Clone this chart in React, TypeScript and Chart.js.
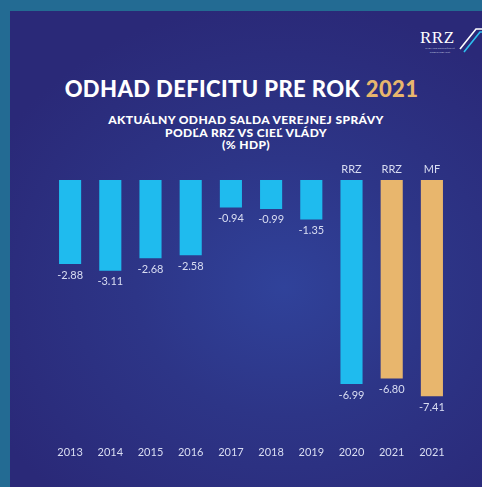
import React, { useEffect, useRef } from "react";
import { Chart, registerables } from "chart.js";

Chart.register(...registerables);

const years = ["2013", "2014", "2015", "2016", "2017", "2018", "2019", "2020", "2021", "2021"];
const balance = [-2.88, -3.11, -2.68, -2.58, -0.94, -0.99, -1.35, -6.99, -6.8, -7.41];
const sources = ["", "", "", "", "", "", "", "RRZ", "RRZ", "MF"];
const yTicks = { min: -8, max: 0 };

const CYAN = "#1fbbee";
const TAN = "#e8b66d";
const LABEL = "#d9ddf2";
const FONT = "Lato, 'Open Sans', sans-serif";

const barLabels = {
  id: "barLabels",
  afterDatasetsDraw(chart: any) {
    const ctx = chart.ctx;
    const meta = chart.getDatasetMeta(0);
    ctx.save();
    ctx.font = `11px ${FONT}`;
    ctx.fillStyle = LABEL;
    ctx.textAlign = "center";
    ctx.textBaseline = "middle";
    meta.data.forEach((bar: any, i: number) => {
      ctx.fillText(balance[i].toFixed(2), bar.x, bar.y + 11);
      if (sources[i]) ctx.fillText(sources[i], bar.x, bar.base - 11);
    });
    ctx.restore();
  },
};

export default function App() {
  const ref = useRef<HTMLCanvasElement | null>(null);

  useEffect(() => {
    if (!ref.current) return;
    const chart = new Chart(ref.current, {
      type: "bar",
      data: {
        labels: years,
        datasets: [
          {
            data: balance,
            backgroundColor: years.map((y, i) => (i >= 8 ? TAN : CYAN)),
            borderWidth: 0,
            categoryPercentage: 1,
            barPercentage: 0.55,
          },
        ],
      },
      options: {
        responsive: false,
        animation: false,
        devicePixelRatio: 1,
        layout: { padding: { top: 180, left: 50, right: 30, bottom: 13.4 } },
        plugins: { legend: { display: false }, tooltip: { enabled: false }, title: { display: false } },
        scales: {
          x: {
            grid: { display: false },
            border: { display: false },
            ticks: { color: LABEL, font: { family: FONT, size: 11 }, padding: 24, maxRotation: 0 },
            afterFit: (s: any) => {
              s.height = 60;
            },
          },
          y: { display: false, min: yTicks.min, max: yTicks.max },
        },
      },
      plugins: [barLabels],
    });
    return () => chart.destroy();
  }, []);

  return (
    <div
      style={{
        position: "fixed",
        left: 0,
        top: 0,
        width: 482,
        height: 487,
        background: "#236b93",
        overflow: "hidden",
        fontFamily: FONT,
      }}
    >
      <div
        style={{
          position: "absolute",
          left: 10,
          top: 11,
          width: 472,
          height: 476,
          background:
            "radial-gradient(ellipse 70% 60% at 58% 58%, #30429a 0%, #2d3587 45%, #2a2978 100%)",
        }}
      />
      <div
        style={{
          position: "absolute",
          left: 241.5,
          top: 78,
          transform: "translateX(-50%)",
          whiteSpace: "nowrap",
          fontSize: 22,
          lineHeight: "22px",
          fontWeight: 900,
          letterSpacing: 0.4,
          color: "#ffffff",
        }}
      >
        ODHAD DEFICITU PRE ROK <span style={{ color: "#e8b66d" }}>2021</span>
      </div>
      <div
        style={{
          position: "absolute",
          left: 246,
          top: 114,
          transform: "translateX(-50%)",
          whiteSpace: "nowrap",
          textAlign: "center",
          fontSize: 12,
          lineHeight: "12.5px",
          fontWeight: 900,
          letterSpacing: 0.4,
          color: "#ffffff",
        }}
      >
        <div>AKTUÁLNY ODHAD SALDA VEREJNEJ SPRÁVY</div>
        <div>PODĽA RRZ VS CIEĽ VLÁDY</div>
        <div>(% HDP)</div>
      </div>
      <div
        style={{
          position: "absolute",
          left: 420,
          top: 28,
          fontFamily: "'Liberation Serif', serif",
          fontSize: 17,
          lineHeight: "20px",
          color: "#ffffff",
          letterSpacing: 0.5,
        }}
      >
        RRZ
      </div>
      <div
        style={{
          position: "absolute",
          left: 421,
          top: 47,
          width: 38,
          fontSize: 2.5,
          lineHeight: "3.5px",
          color: "#b8bfdc",
          textAlign: "center",
          whiteSpace: "nowrap",
          overflow: "hidden",
        }}
      >
        <div>RADA PRE ROZPOČTOVÚ</div>
        <div>ZODPOVEDNOSŤ</div>
      </div>
      <svg style={{ position: "absolute", left: 0, top: 0 }} width={482} height={487}>
        <polyline points="460,49 476,29 482,29" fill="none" stroke="#ffffff" strokeWidth={1.6} />
        <polyline points="464,52 480,32 482,32" fill="none" stroke="#2ec0f0" strokeWidth={1.6} />
      </svg>
      <canvas ref={ref} width={482} height={487} style={{ position: "absolute", left: 0, top: 0 }} />
    </div>
  );
}
